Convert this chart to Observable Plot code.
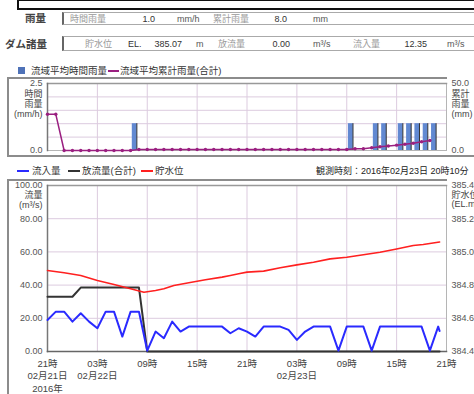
<!DOCTYPE html>
<html><head><meta charset="utf-8">
<script src="https://cdn.jsdelivr.net/npm/d3@7"></script>
<script src="https://cdn.jsdelivr.net/npm/@observablehq/plot@0.6"></script>
<style>
html,body{margin:0;padding:0;background:#fff;}
body{width:474px;height:394px;overflow:hidden;position:relative;font-family:"Liberation Sans","Noto Sans CJK JP",sans-serif;color:#333;}
.a{position:absolute;white-space:nowrap;line-height:12px;height:12px;}
.box{position:absolute;box-sizing:border-box;}
svg{overflow:visible;}
</style></head><body>
<script>
// ---------------- data ----------------
const rainSummaryLabels = ["時間雨量", "累計雨量"];
const rainSummaryValues = ["1.0", "8.0"];
const rainSummaryUnits = ["mm/h", "mm"];
const damLabels = ["貯水位", "放流量", "流入量"];
const damValues = ["385.07", "0.00", "12.35"];
const damUnits = ["m", "m³/s", "m³/s"];
const obsTimeText = "観測時刻：2016年02月23日 20時10分";

const rainLegend = ["流域平均時間雨量", "流域平均累計雨量(合計)"];
const flowLegend = ["流入量", "放流量(合計)", "貯水位"];

// x axis: hours since 2016-02-21 21:00
const xTickHours = [0, 6, 12, 18, 24, 30, 36, 42, 48];
const xTickLabels = ["21時\n02月21日\n2016年", "03時\n02月22日", "09時", "15時", "21時", "03時\n02月23日", "09時", "15時", "21時"];

// hourly rainfall bars (mm/h), hour index of bar start
const rainBarHours = [10, 36, 39, 40, 42, 43, 44, 45, 46];
const rainBarValues = [1.0, 1.0, 1.0, 1.0, 1.0, 1.0, 1.0, 1.0, 1.0];
// cumulative rainfall (mm), hourly from hour 0
const rainCum = [27, 27, 0, 0, 0, 0, 0, 0, 0, 0, 0,
  0.7, 0.7, 0.7, 0.7, 0.7, 0.7, 0.7, 0.7, 0.7, 0.7, 0.7, 0.7, 0.7,
  0.7, 0.7, 0.7, 0.7, 0.7, 0.7, 0.7, 0.7, 0.7, 0.7, 0.7, 0.7, 0.7,
  1.3, 1.3, 2.0, 2.8, 3.4, 4.0, 4.7, 5.4, 6.5, 7.5];

// inflow (m3/s), hourly from hour 0, plus last observation
const inflowHours = [0,1,2,3,4,5,6,7,8,9,10,11,12,13,14,15,16,17,18,19,20,21,22,23,24,25,26,27,28,29,30,31,32,33,34,35,36,37,38,39,40,41,42,43,44,45,46,47,47.17];
const inflowValues = [19,24,24,18,23,18,14,24,24,9,24,24,0.5,12,8,18,12,15,15,15,15,15,11,14,12,9,15,15,15,13,7,12,15,15,15,0.5,15,15,15,0.5,15,15,15,15,15,15,0.5,15,12.35];
// outflow (m3/s)
const outflowHours = [0, 3, 4, 11, 12, 47.17];
const outflowValues = [33, 33, 38.5, 38.5, 0, 0];
// reservoir level (EL.m)
const levelHours = [0,2,4,6,8,10,11.6,13,14,15.2,17,19,21,22,23,24,26,28,30,32,34,36,38,40,42,44,45.2,47.17];
const levelValues = [384.888,384.874,384.858,384.828,384.804,384.778,384.757,384.767,384.778,384.798,384.814,384.832,384.848,384.858,384.868,384.878,384.884,384.904,384.922,384.938,384.958,384.968,384.983,384.998,385.018,385.039,385.045,385.06];

const flowTicks = [0, 20, 40, 60, 80, 100];
const rateTicks = [0, 2.5];
const rateGrid = [0, 0.5, 1, 1.5, 2, 2.5];

// ---------------- layout helpers ----------------
const body = document.body;
function txt(s, x, cy, o = {}) {
  const d = document.createElement("div");
  d.className = "a";
  d.textContent = s;
  d.style.left = x + "px";
  d.style.top = (cy - 6) + "px";
  d.style.fontSize = (o.size || 9) + "px";
  if (o.color) d.style.color = o.color;
  if (o.bold) d.style.fontWeight = "bold";
  if (o.right) { d.style.left = "auto"; d.style.right = (474 - x) + "px"; }
  body.appendChild(d);
  return d;
}
function box(x, y, w, h, css) {
  const d = document.createElement("div");
  d.className = "box";
  Object.assign(d.style, {left: x + "px", top: y + "px", width: w + "px", height: h + "px"}, css);
  body.appendChild(d);
  return d;
}

// header
box(17, -1, 470, 11, {border: "2px solid #111"});
txt("雨量", 25, 18, {size: 10.5, bold: true, color: "#444"});
box(62, 12, 420, 13, {borderLeft: "2px solid #666", borderTop: "1px solid #aaa", borderBottom: "1px solid #aaa"});
txt(rainSummaryLabels[0], 70, 18.5, {color: "#999"});
txt(rainSummaryValues[0], 155, 18.5, {right: true});
txt(rainSummaryUnits[0], 177, 18.5, {color: "#555"});
txt(rainSummaryLabels[1], 213, 18.5, {color: "#999"});
txt(rainSummaryValues[1], 287, 18.5, {right: true});
txt(rainSummaryUnits[1], 313, 18.5, {color: "#555"});

txt("ダム諸量", 5, 43.5, {size: 10.5, bold: true, color: "#444"});
box(62, 36, 420, 15, {borderLeft: "2px solid #666", borderTop: "1px solid #aaa", borderBottom: "1px solid #aaa"});
txt(damLabels[0], 85, 43.5, {color: "#999"});
txt("EL.", 128, 43.5);
txt(damValues[0], 182, 43.5, {right: true});
txt(damUnits[0], 196, 43.5, {color: "#555"});
txt(damLabels[1], 218, 43.5, {color: "#999"});
txt(damValues[1], 290, 43.5, {right: true});
txt(damUnits[1], 313, 43.5, {color: "#555"});
txt(damLabels[2], 353, 43.5, {color: "#999"});
txt(damValues[2], 427, 43.5, {right: true});
txt(damUnits[2], 447, 43.5, {color: "#555"});

// legend 1
box(18, 67, 7, 7, {background: "#4f72b8"});
txt(rainLegend[0], 31, 70.5, {size: 9.5});
box(108, 69.5, 11, 2, {background: "#9a1f80"});
txt(rainLegend[1], 120, 70.5, {size: 9.5});

// top frame
box(7, 77, 440, 80, {borderLeft: "2px solid #8c8c8c", borderTop: "2px solid #8c8c8c", borderBottom: "2px solid #8c8c8c"});
box(446, 155, 40, 2, {background: "#8c8c8c"});

// legend 2
box(17, 170, 12, 2, {background: "#2a2aff"});
txt(flowLegend[0], 32, 171, {size: 9.5});
box(68, 170, 12, 2, {background: "#333"});
txt(flowLegend[1], 82, 171, {size: 9.5});
box(141, 170, 12, 2, {background: "#ff2020"});
txt(flowLegend[2], 155, 171, {size: 9.5});
txt(obsTimeText, 316, 171, {size: 9, color: "#222"});

// bottom frame
box(7, 179, 440, 300, {borderLeft: "2px solid #8c8c8c", borderTop: "2px solid #8c8c8c"});

// ---------------- charts ----------------
const gridColor = "#dccbdf";
const fontFamily = '"Liberation Sans","Noto Sans CJK JP",sans-serif';
const style = {fontSize: "9px", fontFamily, color: "#333", background: "transparent", overflow: "visible"};

// top rainfall chart
const cumToRate = d3.scaleLinear([0, 50], [0, 2.5]);
const bars = rainBarHours.map((h, i) => ({h, v: rainBarValues[i]}));
const cum = rainCum.map((v, i) => ({h: i, v}));
const topChart = Plot.plot({
  width: 466, height: 76,
  marginTop: 4, marginBottom: 5, marginLeft: 39, marginRight: 28,
  x: {domain: [0, 48], axis: null, label: null},
  y: {domain: [0, 2.5], axis: null, label: null},
  style,
  marks: [
    Plot.gridY(rateGrid, {stroke: gridColor, strokeOpacity: 1}),
    Plot.gridX(xTickHours, {stroke: gridColor, strokeOpacity: 1}),
    Plot.frame({stroke: "#b5b5b5"}),
    Plot.frame({anchor: "top", stroke: "#999", strokeWidth: 1.5}),
    Plot.frame({anchor: "left", stroke: "#777", strokeWidth: 1.5}),
    Plot.axisY(rateTicks, {anchor: "left", label: null, tickSize: 0, tickPadding: 5, tickFormat: d => d.toFixed(1), fill: "#555"}),
    Plot.axisY(rateTicks, {anchor: "right", label: null, tickSize: 0, tickPadding: 5, tickFormat: d => cumToRate.invert(d).toFixed(1), fill: "#555"}),
    Plot.text(["時間\n雨量\n(mm/h)"], {frameAnchor: "top-left", dx: -5, dy: 7, textAnchor: "end", lineAnchor: "top", lineHeight: 1.08, fill: "#444"}),
    Plot.text(["累計\n雨量\n(mm)"], {frameAnchor: "top-right", dx: 5, dy: 7, textAnchor: "start", lineAnchor: "top", lineHeight: 1.08, fill: "#444"}),
    Plot.rect(bars, {x1: d => d.h + 0.2, x2: d => d.h + 0.8, y1: 0, y2: d => d.v, fill: "#6289d2"}),
    Plot.ruleX(bars, {x: d => d.h + 0.75, y1: 0, y2: d => d.v, stroke: "#333", strokeWidth: 1}),
    Plot.line(cum, {x: "h", y: d => cumToRate(d.v), stroke: "#9a1f80", strokeWidth: 1.5}),
    Plot.dot(cum, {x: "h", y: d => cumToRate(d.v), r: 1.7, fill: "#9a1f80"})
  ]
});
Object.assign(topChart.style, {position: "absolute", left: "8px", top: "79px"});
body.appendChild(topChart);

// bottom flow chart
const levelToFlow = d3.scaleLinear([384.4, 385.4], [0, 100]);
const inflow = inflowHours.map((h, i) => ({h, v: inflowValues[i]}));
const outflow = outflowHours.map((h, i) => ({h, v: outflowValues[i]}));
const level = levelHours.map((h, i) => ({h, v: levelValues[i]}));
const bottomChart = Plot.plot({
  width: 466, height: 214,
  marginTop: 5, marginBottom: 43, marginLeft: 39, marginRight: 28,
  x: {domain: [0, 48], axis: null, label: null},
  y: {domain: [0, 100], axis: null, label: null},
  style,
  marks: [
    Plot.gridY(flowTicks, {stroke: gridColor, strokeOpacity: 1}),
    Plot.gridX(xTickHours, {stroke: gridColor, strokeOpacity: 1}),
    Plot.frame({stroke: "#b5b5b5"}),
    Plot.frame({anchor: "top", stroke: "#999", strokeWidth: 1.5}),
    Plot.frame({anchor: "left", stroke: "#777", strokeWidth: 1.5}),
    Plot.frame({anchor: "bottom", stroke: "#666", strokeWidth: 1.5}),
    Plot.axisY(flowTicks, {anchor: "left", label: null, tickSize: 0, tickPadding: 5, tickFormat: d => d.toFixed(2), fill: "#555"}),
    Plot.axisY(flowTicks, {anchor: "right", label: null, tickSize: 0, tickPadding: 5, tickFormat: d => levelToFlow.invert(d).toFixed(2), fill: "#555"}),
    Plot.axisX(xTickHours, {anchor: "bottom", label: null, tickSize: 0, tickPadding: 6, tickFormat: d => xTickLabels[xTickHours.indexOf(d)], lineHeight: 1.35, fontSize: 9.5, fill: "#444"}),
    Plot.text(["流量\n(m³/s)"], {frameAnchor: "top-left", dx: -5, dy: 6, textAnchor: "end", lineAnchor: "top", lineHeight: 1.08, fill: "#444"}),
    Plot.text(["貯水位\n(EL.m)"], {frameAnchor: "top-right", dx: 5, dy: 6.5, textAnchor: "start", lineAnchor: "top", lineHeight: 1.0, fill: "#444"}),
    Plot.line(outflow, {x: "h", y: "v", stroke: "#333", strokeWidth: 2}),
    Plot.line(inflow, {x: "h", y: "v", stroke: "#2a2aff", strokeWidth: 2}),
    Plot.line(level, {x: "h", y: d => levelToFlow(d.v), stroke: "#ff2020", strokeWidth: 1.6})
  ]
});
Object.assign(bottomChart.style, {position: "absolute", left: "8px", top: "180px"});
body.appendChild(bottomChart);
</script>
</body></html>
